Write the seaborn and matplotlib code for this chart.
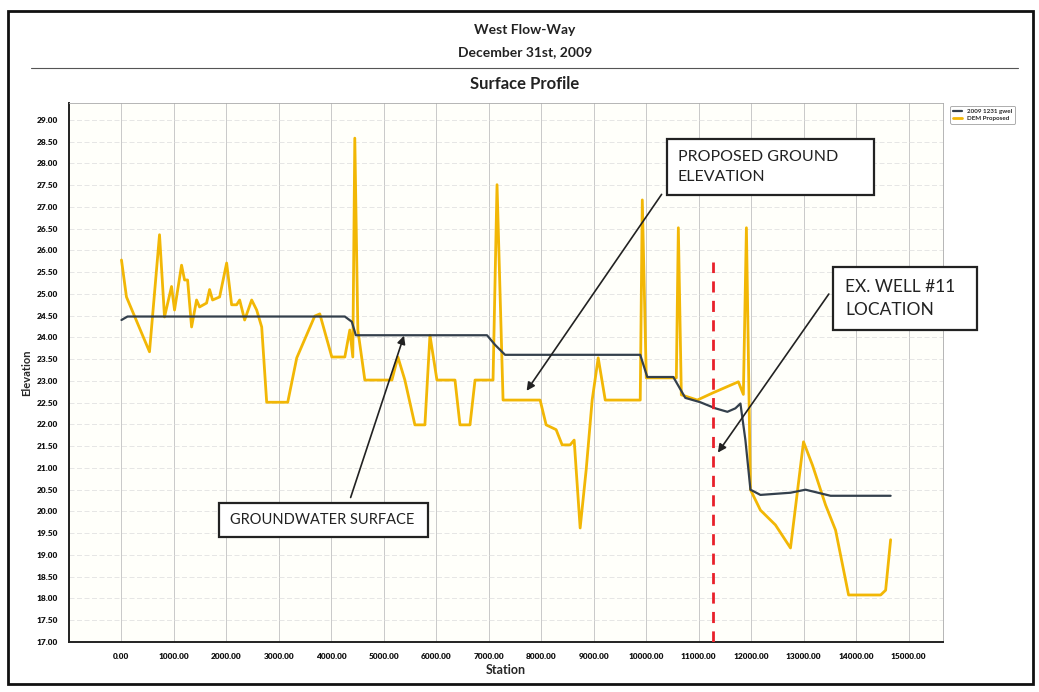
import numpy as np
import pandas as pd
import matplotlib
matplotlib.use("Agg")
import matplotlib.pyplot as plt
from matplotlib.ticker import MultipleLocator, FormatStrFormatter
import seaborn as sns

# groundwater / surface profile (yellow)
gw_station = [0, 95, 534, 725, 820, 954, 1011, 1145, 1202, 1260, 1336, 1431, 1488,
              1622, 1679, 1736, 1870, 2004, 2099, 2195, 2252, 2347, 2481, 2576, 2672,
              2767, 3168, 3340, 3683, 3779, 4008, 4256, 4351, 4408, 4446, 4504, 4637,
              5153, 5267, 5400, 5591, 5782, 5878, 6011, 6355, 6450, 6641, 6737, 6927,
              7080, 7156, 7271, 7977, 8092, 8282, 8397, 8550, 8626, 8740, 8855, 8969,
              9084, 9218, 9885, 9924, 10000, 10573, 10611, 10668, 10973, 11259, 11755,
              11850, 11908, 11985, 12175, 12461, 12748, 12996, 13168, 13416, 13607,
              13855, 14466, 14561, 14656]
gw_elev = [25.78, 24.93, 23.67, 26.36, 24.47, 25.17, 24.63, 25.66, 25.32, 25.32, 24.24,
           24.86, 24.70, 24.79, 25.10, 24.86, 24.93, 25.71, 24.75, 24.75, 24.86, 24.40,
           24.86, 24.63, 24.24, 22.51, 22.51, 23.53, 24.49, 24.54, 23.55, 23.55, 24.17,
           23.55, 28.58, 24.17, 23.02, 23.02, 23.55, 23.02, 21.99, 21.99, 24.05, 23.02,
           23.02, 21.99, 21.99, 23.02, 23.02, 23.02, 27.51, 22.56, 22.56, 21.99, 21.88,
           21.53, 21.53, 21.64, 19.62, 20.96, 22.56, 23.53, 22.56, 22.56, 27.16, 23.07,
           23.07, 26.52, 22.68, 22.56, 22.72, 22.98, 22.69, 26.52, 20.50, 20.03, 19.69,
           19.16, 21.60, 21.06, 20.15, 19.57, 18.08, 18.08, 18.19, 19.35]

# proposed ground (dark)
pg_station = [0, 115, 4256, 4389, 4466, 6965, 7118, 7309, 9885, 10019, 10515, 10744,
              11030, 11317, 11546, 11698, 11794, 11889, 11985, 12175, 12748, 13034,
              13511, 14656]
pg_elev = [24.40, 24.48, 24.48, 24.36, 24.05, 24.05, 23.83, 23.60, 23.60, 23.09, 23.09,
           22.61, 22.51, 22.37, 22.29, 22.37, 22.48, 21.64, 20.50, 20.38, 20.43, 20.50,
           20.36, 20.36]

well_station = 11280
well_top = 25.74
y_ticks = np.arange(17.0, 29.01, 0.5)
x_ticks = np.arange(0, 15001, 1000)

sns.set_style("white")
plt.rcParams['font.family'] = ['Lato', 'DejaVu Sans']

gw = pd.DataFrame({'Station': gw_station, 'Elevation': gw_elev})
pg = pd.DataFrame({'Station': pg_station, 'Elevation': pg_elev})

fig = plt.figure(figsize=(10.39, 6.92), dpi=100)
ax = fig.add_axes([0.0664, 0.0723, 0.841, 0.779])
ax.set_facecolor('#fffffa')

sns.lineplot(data=pg, x='Station', y='Elevation', sort=False, estimator=None,
             color='#34404c', lw=1.6, ax=ax, label='2009 1231 gwel', zorder=3)
sns.lineplot(data=gw, x='Station', y='Elevation', sort=False, estimator=None,
             color='#f2b705', lw=2.0, ax=ax, label='DEM Proposed', zorder=2)
ax.plot([well_station, well_station], [17.0, well_top], color='#e8202a', lw=2,
        ls=(0, (4, 3)), zorder=4)

ax.set_xlim(-1000, 15650)
ax.set_ylim(17.0, 29.39)
ax.set_xticks(x_ticks)
ax.set_yticks(y_ticks)
ax.xaxis.set_minor_locator(MultipleLocator(250))
ax.xaxis.set_major_formatter(FormatStrFormatter('%.2f'))
ax.yaxis.set_major_formatter(FormatStrFormatter('%.2f'))
ax.tick_params(axis='both', which='major', labelsize=6, length=4, width=0.8,
               direction='out', colors='#111111')
ax.tick_params(axis='x', which='minor', length=3, width=0.6, direction='inout')
ax.tick_params(axis='x', which='major', direction='inout', length=6, pad=5)
ax.tick_params(axis='y', which='major', pad=4)
for lbl in ax.get_xticklabels() + ax.get_yticklabels():
    lbl.set_fontweight('heavy')
ax.xaxis.grid(True, which='major', color='#c9c9c9', lw=0.7)
ax.yaxis.grid(True, which='major', color='#e2e2e2', lw=0.6, ls=(0, (6, 3)))
for s in ['top', 'right']:
    ax.spines[s].set_color('#aaaaaa')
    ax.spines[s].set_linewidth(0.6)
for s in ['left', 'bottom']:
    ax.spines[s].set_color('#222222')
    ax.spines[s].set_linewidth(1.4)

ax.set_xlabel('Station', fontsize=9, fontweight='bold', labelpad=3)
ax.set_ylabel('Elevation', fontsize=8, fontweight='bold', labelpad=3)

leg = ax.legend(loc='upper left', bbox_to_anchor=(1.005, 1.0), fontsize=4.5,
                frameon=True, handlelength=1.5, borderpad=0.4, labelspacing=0.3)
leg.get_frame().set_edgecolor('#888888')
leg.get_frame().set_linewidth(0.6)
for t in leg.get_texts():
    t.set_fontweight('bold')

fig.text(0.505, 0.957, 'West Flow-Way', ha='center', va='center', fontsize=10,
         fontweight='bold', color='#222222')
fig.text(0.505, 0.925, 'December 31st, 2009', ha='center', va='center', fontsize=10,
         fontweight='bold', color='#222222')
fig.text(0.505, 0.878, 'Surface Profile', ha='center', va='center', fontsize=12,
         fontweight='bold', color='#222222')
fig.add_artist(plt.Line2D([0.03, 0.98], [0.902, 0.902], color='#555555', lw=0.8))
fig.add_artist(plt.Rectangle((0.008, 0.012), 0.986, 0.972, fill=False,
                             edgecolor='#111111', lw=2.0))

arrow = dict(arrowstyle='-|>', color='#222222', lw=1.2, mutation_scale=12)
ax.annotate('', xy=(7690, 22.72), xytext=(10322, 27.34), arrowprops=arrow,
            annotation_clip=False, zorder=5)
ax.annotate('', xy=(11334, 21.30), xytext=(13509, 25.05), arrowprops=arrow,
            annotation_clip=False, zorder=5)
ax.annotate('', xy=(5400, 24.10), xytext=(4350, 20.26), arrowprops=arrow,
            annotation_clip=False, zorder=5)

def label_box(x, y, s, size):
    t = ax.text(x, y, s, fontsize=size, ha='left', va='center', linespacing=1.55,
                color='#222222', zorder=6, clip_on=False,
                bbox=dict(boxstyle='square,pad=0.7', fc='white', ec='#222222', lw=1.6))
    return t

label_box(10600, 27.92, 'PROPOSED GROUND      \nELEVATION', 11.5)
label_box(13795, 24.89, 'EX. WELL #11  \nLOCATION', 12.5)
label_box(2061, 19.80, 'GROUNDWATER SURFACE ', 10.5)

fig.savefig('out.png', dpi=100)
